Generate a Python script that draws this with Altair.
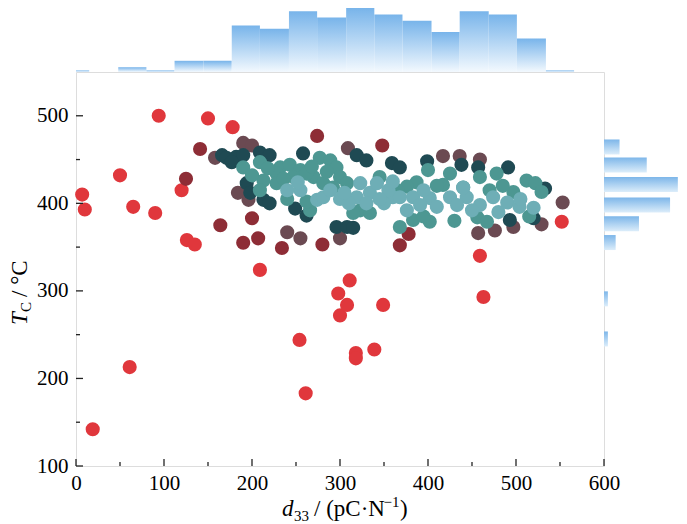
import altair as alt
import pandas as pd

# ---------------- data ----------------
red_x = [7, 10, 19, 50, 61, 65, 90, 94, 120, 126, 135, 150, 178, 209, 254, 261, 298, 300, 308, 311, 318, 318, 339, 349, 459, 463, 552]
red_y = [410, 393, 142, 432, 213, 396, 389, 500, 415, 358, 353, 497, 487, 324, 244, 183, 297, 272, 284, 312, 229, 223, 233, 284, 340, 293, 379]

darkred_x = [125, 141, 164, 190, 200, 207, 234, 274, 280, 348, 368, 378]
darkred_y = [428, 462, 375, 355, 383, 360, 349, 477, 353, 466, 352, 365]

mauve_x = [158, 184, 190, 200, 196, 240, 255, 300, 309, 417, 436, 459, 457, 476, 497, 529, 553]
mauve_y = [452, 412, 469, 466, 404, 367, 360, 360, 463, 454, 454, 450, 366, 369, 373, 376, 401]

darkteal_x = [166, 171, 182, 190, 209, 220, 258, 319, 330, 359, 368, 399, 438, 457, 491, 533, 194, 198, 213, 220, 249, 262, 296, 308, 315, 493, 520, 177]
darkteal_y = [455, 452, 453, 455, 458, 455, 457, 455, 449, 446, 441, 448, 444, 441, 441, 417, 423, 412, 404, 400, 394, 386, 373, 373, 372, 381, 383, 447]

teal_x = [190, 209, 232, 243, 255, 277, 289, 296, 270, 281, 300, 308, 213, 228, 247, 262, 400, 425, 459, 478, 512, 522, 529, 387, 376, 417, 470, 497, 383, 402, 368, 456, 467, 323, 334, 315, 266, 209, 228,
          200, 218, 236, 268, 285, 292, 240, 262, 345, 365, 410, 440, 485, 515, 395, 430]
teal_y = [441, 447, 441, 444, 438, 452, 449, 441, 430, 423, 430, 423, 426, 434, 430, 434, 438, 434, 430, 434, 426, 423, 413, 424, 419, 421, 415, 413, 381, 379, 373, 384, 379, 392, 389, 389, 392, 415, 423,
          432, 440, 428, 442, 436, 418, 405, 402, 430, 415, 420, 418, 420, 385, 385, 380]

lightteal_x = [323, 334, 342, 319, 274, 281, 289, 255, 240, 360, 368, 383, 402, 425, 444, 459, 474, 490, 504, 520, 391, 410, 433, 376, 350, 355, 300, 310,
               252, 305, 330, 345, 395, 450, 480, 505, 360, 440]
lightteal_y = [423, 412, 423, 407, 404, 407, 415, 415, 415, 407, 407, 407, 406, 407, 407, 398, 407, 401, 396, 395, 398, 396, 398, 392, 400, 415, 405, 400,
               424, 412, 400, 405, 415, 392, 390, 405, 425, 418]

group_names = ["red", "darkred", "mauve", "darkteal", "teal", "lightteal"]
group_colors = ["#E0373C", "#8E2D36", "#6B4A52", "#1F4A53", "#4D9792", "#6EAEB6"]

# top histogram (d33)
top_edges = [-17, 15, 48, 80, 112, 145, 177, 209, 242, 274, 307, 339, 371, 404, 436, 469, 501, 534, 566]
top_counts = [1, 0, 3, 1, 7, 7, 29, 27, 38, 34, 40, 36, 32, 25, 38, 36, 21, 1]

# right histogram (Tc)
right_centers = [468, 447, 424, 400, 378, 356, 290, 243]
right_counts = [4, 11, 19, 17, 9, 3, 1, 1]

x_major = [0, 100, 200, 300, 400, 500, 600]
x_minor = [50, 150, 250, 350, 450, 550]
y_major = [100, 200, 300, 400, 500]
y_minor = [150, 250, 350, 450]

# ---------------- tables ----------------
series = [
    ("red", red_x, red_y), ("darkred", darkred_x, darkred_y), ("mauve", mauve_x, mauve_y),
    ("darkteal", darkteal_x, darkteal_y), ("teal", teal_x, teal_y), ("lightteal", lightteal_x, lightteal_y),
]
rows = []
for g, xs, ys in series:
    for a, b in zip(xs, ys):
        rows.append({"d33": a, "Tc": b, "group": g})
df = pd.DataFrame(rows)

top_df = pd.DataFrame({"lo": top_edges[:-1], "hi": top_edges[1:], "n": top_counts})
right_df = pd.DataFrame({"c": right_centers, "n": right_counts})
one = pd.DataFrame({"k": [0]})

FONT = "Liberation Serif"
W, H = 528, 394

xscale = alt.Scale(domain=[0, 600], nice=False, zero=False)
yscale = alt.Scale(domain=[100, 550], nice=False, zero=False)

xaxis = alt.Axis(values=x_major, tickSize=0, domain=False, grid=False, labelFont=FONT,
                 labelFontSize=21, labelPadding=6, labelFlush=False, labelColor="black",
                 title=None, labelOverlap=False)
yaxis = alt.Axis(values=y_major, tickSize=0, domain=False, grid=False, labelFont=FONT,
                 labelFontSize=21, labelPadding=8, labelFlush=False, labelColor="black",
                 title=None, labelOverlap=False)

points = alt.Chart(df).mark_circle(size=200, opacity=1).encode(
    x=alt.X("d33:Q", scale=xscale, axis=xaxis),
    y=alt.Y("Tc:Q", scale=yscale, axis=yaxis),
    color=alt.Color("group:N", scale=alt.Scale(domain=group_names, range=group_colors), legend=None),
)

def yticks(vals, length):
    return alt.Chart(pd.DataFrame({"Tc": vals})).mark_rule(color="#222", strokeWidth=1.3).encode(
        y=alt.Y("Tc:Q", scale=yscale, axis=yaxis), x=alt.value(0), x2=alt.value(length))

def xticks(vals, length):
    return alt.Chart(pd.DataFrame({"d33": vals})).mark_rule(color="#222", strokeWidth=1.3).encode(
        x=alt.X("d33:Q", scale=xscale, axis=xaxis), y=alt.value(H), y2=alt.value(H - length))

def txt(s, x, y, size=23, style="normal", angle=0):
    return alt.Chart(one).mark_text(text=s, font=FONT, fontSize=size, fontStyle=style, align="left",
                                    baseline="alphabetic", angle=angle, color="black").encode(
        x=alt.value(x), y=alt.value(y))

titles = [
    txt("d", 206, 444, style="italic"),
    txt("33", 218, 449, size=15),
    txt("/ (pC·N", 238, 444),
    txt("−1", 307.5, 435, size=15),
    txt(")", 324, 444),
    txt("T", -49, 253, style="italic", angle=270),
    txt("C", -45, 240, size=15, angle=270),
    txt("/ °C", -49, 225, angle=270),
]

main = alt.layer(points, yticks(y_major, 7), yticks(y_minor, 4), xticks(x_major, 7), xticks(x_minor, 4),
                 *titles).properties(width=W, height=H)

top_grad = {"gradient": "linear", "x1": 0, "x2": 0, "y1": 0, "y2": 1,
            "stops": [{"offset": 0, "color": "#78B4EA"}, {"offset": 1, "color": "#F3F9FE"}]}
right_grad = {"gradient": "linear", "x1": 0, "x2": 0, "y1": 0, "y2": 1,
              "stops": [{"offset": 0, "color": "#7DB6E9"}, {"offset": 1, "color": "#DCEDFA"}]}

top = alt.Chart(top_df).mark_bar(clip=True, color=top_grad).encode(
    x=alt.X("lo:Q", scale=xscale, axis=None), x2="hi:Q",
    y=alt.Y("n:Q", scale=alt.Scale(domain=[0, 40], nice=False), axis=None),
    y2=alt.datum(0),
).properties(width=W, height=64, view=alt.ViewBackground(strokeOpacity=0))

right = alt.Chart(right_df).mark_bar(orient="horizontal", size=15, clip=True, color=right_grad).encode(
    y=alt.Y("c:Q", scale=yscale, axis=None),
    x=alt.X("n:Q", scale=alt.Scale(domain=[0, 19.3], nice=False), axis=None),
).properties(width=75, height=H, view=alt.ViewBackground(strokeOpacity=0))

row = alt.hconcat(main, right, spacing=0, bounds="flush").resolve_scale(x="independent", y="independent")
chart = alt.vconcat(top, row, spacing=0, bounds="flush").resolve_scale(x="independent", y="independent").properties(
    padding={"left": 0, "top": 0, "right": 0, "bottom": 0}
).configure_view(stroke="#222", strokeWidth=1.6).configure(background="white")

chart.save("out.html", embed_options={"renderer": "svg", "actions": False})
